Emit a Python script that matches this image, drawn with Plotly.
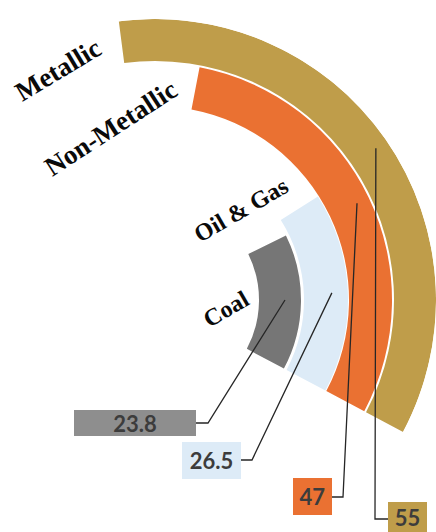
import numpy as np
import plotly.graph_objects as go

# --- data -------------------------------------------------------------
categories = ["Coal", "Oil & Gas", "Non-Metallic", "Metallic"]
values = [23.8, 26.5, 47, 55]
value_labels = ["23.8", "26.5", "47", "55"]

ring_colors = ["#767676", "#DDEBF7", "#EA7132", "#BF9D4A"]
box_colors = ["#8E8E8E", "#DDEBF7", "#EA7132", "#BF9D4A"]

# --- geometry / style -------------------------------------------------
W, H = 436, 532
CX, CY, R_OUT = 155, 300, 281          # centre of the rings and outer radius (px)
ring_inner = [104, 149, 194, 239]      # inner radius of each ring
ring_width = [42, 44, 43, 42]          # ring thickness
END_ANGLE = -28                        # common end of every arc (deg, ccw from east)
DEG_PER_UNIT = 2.28
SECTOR = [-30, 100]

spans = [v * DEG_PER_UNIT for v in values]
thetas = [END_ANGLE + s / 2 for s in spans]


def sector_bbox(a0, a1):
    angs = [a0, a1] + [a for a in (-270, -180, -90, 0, 90, 180, 270) if a0 < a < a1]
    xs = [np.cos(np.radians(a)) for a in angs] + [0.0]
    ys = [np.sin(np.radians(a)) for a in angs] + [0.0]
    return min(xs), min(ys), max(xs), max(ys)


bx0, by0, bx1, by1 = sector_bbox(*SECTOR)
dom_x = [max(0.0, (CX + bx0 * R_OUT) / W), min(1.0, (CX + bx1 * R_OUT) / W)]
dom_y = [max(0.0, 1 - (CY - by0 * R_OUT) / H), min(1.0, 1 - (CY - by1 * R_OUT) / H)]


def px(x, y):
    """pixel position -> paper coordinates"""
    return x / W, 1 - y / H


def polar_px(r, a):
    return CX + r * np.cos(np.radians(a)), CY - r * np.sin(np.radians(a))


fig = go.Figure()
fig.add_trace(go.Barpolar(
    r=ring_width,
    base=ring_inner,
    theta=thetas,
    width=spans,
    marker=dict(color=ring_colors, line=dict(width=0)),
    hoverinfo="skip",
    showlegend=False,
))

# --- category names along the arcs ------------------------------------
name_pos = [(226, 309), (241, 210), (111, 128), (58, 70)]
name_size = [24, 24, 27, 27]
name_angle = [-30, -30, -33, -31]
annotations = []
for name, (x, y), s, ang in zip(categories, name_pos, name_size, name_angle):
    xp, yp = px(x, y)
    annotations.append(dict(
        x=xp, y=yp, xref="paper", yref="paper", text=name, showarrow=False,
        xanchor="center", yanchor="middle", textangle=ang,
        font=dict(family="Liberation Serif", size=s, color="#0A0A0A", weight="bold"),
    ))

# --- value boxes with leader lines ------------------------------------
box_center = [(135, 423), (211.5, 460.5), (312.5, 496.5), (407.5, 517)]
box_size = [(122, 26), (59, 37), (39, 37), (39, 30)]
leader_start = [(130, 0), (177, 2.3), (224, 25.6), (268, 34.5)]
leader_bend = [(208, 423), (252, 460), (343, 497), (375, 519)]
leader_end = [(196, 423), (241, 460), (332, 497), (388, 519)]

shapes = []
for lab, col, (x, y), (bw, bh), st, bend, end in zip(
        value_labels, box_colors, box_center, box_size, leader_start, leader_bend, leader_end):
    xp, yp = px(x, y)
    annotations.append(dict(
        x=xp, y=yp, xref="paper", yref="paper", text=lab, showarrow=False,
        xanchor="center", yanchor="middle", bgcolor=col,
        width=bw - 2, height=bh - 2, borderpad=1, borderwidth=0, align="center",
        font=dict(family="Lato", size=22, color="#3C3C3C", weight="bold"),
    ))
    pts = [px(*polar_px(*st)), px(*bend), px(*end)]
    path = "M {:.5f},{:.5f} L {:.5f},{:.5f} L {:.5f},{:.5f}".format(*pts[0], *pts[1], *pts[2])
    shapes.append(dict(type="path", path=path, xref="paper", yref="paper",
                       line=dict(color="#262626", width=1.3), layer="above"))

fig.update_layout(
    width=W, height=H,
    margin=dict(l=0, r=0, t=0, b=0),
    paper_bgcolor="white",
    plot_bgcolor="white",
    showlegend=False,
    polar=dict(
        domain=dict(x=dom_x, y=dom_y),
        sector=SECTOR,
        bgcolor="rgba(0,0,0,0)",
        radialaxis=dict(range=[0, R_OUT], visible=False, showgrid=False),
        angularaxis=dict(rotation=0, direction="counterclockwise", visible=False,
                         showgrid=False, showline=False, showticklabels=False),
        bargap=0,
    ),
    annotations=annotations,
    shapes=shapes,
)

fig.write_html("out.html")
